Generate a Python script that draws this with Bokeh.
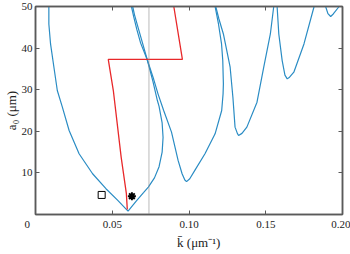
from bokeh.plotting import figure
from bokeh.models import (FixedTicker, LinearAxis, Span, CustomJSTickFormatter)
from bokeh.embed import file_html
from bokeh.resources import INLINE

# ---------------- data ----------------
loop_k = [0.0087, 0.0087, 0.0098, 0.0120, 0.0142, 0.0175, 0.0219, 0.0284, 0.0372, 0.0459,
          0.0536, 0.0595, 0.0603, 0.0656, 0.0705, 0.0735, 0.0775, 0.0805, 0.0825, 0.0831,
          0.0825, 0.0805, 0.0794, 0.0765, 0.0728, 0.0695, 0.0668, 0.0645, 0.0633]
loop_a = [50.0, 45.8, 41.0, 35.4, 29.8, 25.8, 20.2, 14.6, 9.8, 6.2,
          3.4, 1.1, 0.8, 3.2, 5.3, 6.6, 8.8, 11.5, 15.0, 18.5,
          22.0, 26.0, 27.4, 32.0, 37.2, 41.5, 45.0, 48.0, 50.0]

b_k = [0.0625, 0.0640, 0.0660, 0.0685, 0.0728, 0.0770, 0.0798, 0.0835, 0.0886, 0.0929,
       0.0955, 0.0973, 0.0984, 0.1005, 0.1038, 0.1104, 0.1170, 0.1213, 0.1222, 0.1224,
       0.1220, 0.1212, 0.1192, 0.1170]
b_a = [50.0, 47.5, 44.5, 41.2, 37.2, 32.5, 29.0, 25.0, 19.8, 13.0,
       9.8, 8.3, 7.9, 8.6, 10.6, 14.6, 19.4, 25.0, 29.0, 31.4,
       37.0, 41.0, 45.8, 50.0]

c_k = [0.1174, 0.1195, 0.1224, 0.1268, 0.1286, 0.1300, 0.1315, 0.1323, 0.1345, 0.1377,
       0.1443, 0.1487, 0.1530, 0.1552]
c_a = [50.0, 47.0, 43.4, 35.4, 28.2, 21.0, 19.5, 19.0, 19.5, 21.0,
       27.0, 35.4, 43.4, 50.0]

d_k = [0.1574, 0.1585, 0.1607, 0.1625, 0.1640, 0.1655, 0.1683, 0.1749, 0.1815]
d_a = [50.0, 43.4, 37.0, 33.5, 32.6, 33.0, 34.2, 41.0, 50.0]

e_k = [0.1890, 0.1905, 0.1923, 0.1940, 0.1978]
e_a = [50.0, 48.3, 47.6, 48.2, 50.0]

red_k = [0.0598, 0.0592, 0.0558, 0.0507, 0.0474, 0.0957, 0.0901]
red_a = [1.2, 5.0, 13.8, 29.8, 37.3, 37.3, 50.0]

dotted_k = 0.0739
square_k, square_a = [0.0431], [4.7]
star_k, star_a = [0.0628], [4.4]

x_ticks = [0, 0.05, 0.10, 0.15, 0.20]
y_ticks = [10, 20, 30, 40, 50]
x_label = "\u2002\u2002\u2002k\u0304 (\u03bcm\u207b\u00b9)"
y_label = "a\u2080 (\u03bcm)"

BLUE = "#2a8cc4"
RED = "#e8282a"
FRAME = "#5a5a5a"
FONT = "Liberation Serif"

p = figure(width=350, height=254, x_range=(0, 0.2), y_range=(0, 50),
           output_backend="svg", toolbar_location=None,
           min_border_left=35, min_border_right=8, min_border_top=6, min_border_bottom=40)
p.grid.visible = False
p.outline_line_color = FRAME
p.outline_line_width = 1.5
p.background_fill_color = "white"
p.border_fill_color = "white"

for ax in (p.xaxis[0], p.yaxis[0]):
    ax.axis_line_color = FRAME
    ax.axis_line_width = 1.5
    ax.major_tick_in = 4
    ax.major_tick_out = 0
    ax.minor_tick_line_color = None
    ax.major_tick_line_color = FRAME
    ax.major_label_text_font = FONT
    ax.major_label_text_font_size = "11px"
    ax.major_label_text_color = "#222222"
    ax.axis_label_text_font = FONT
    ax.axis_label_text_font_size = "13px"
    ax.axis_label_text_font_style = "normal"
    ax.axis_label_text_color = "#222222"

p.xaxis[0].ticker = FixedTicker(ticks=x_ticks)
p.xaxis[0].formatter = CustomJSTickFormatter(
    code="return tick == 0 ? '0\u2002\u2002\u2002' : tick.toFixed(2)")
p.xaxis[0].major_label_standoff = 3
p.xaxis[0].axis_label = x_label
p.xaxis[0].axis_label_standoff = 2
p.yaxis[0].ticker = FixedTicker(ticks=y_ticks)
p.yaxis[0].major_label_standoff = 3
p.yaxis[0].axis_label = y_label
p.yaxis[0].axis_label_standoff = 0

blank = CustomJSTickFormatter(code="return ''")
top = LinearAxis(ticker=FixedTicker(ticks=x_ticks[1:]), formatter=blank,
                 major_tick_in=4, major_tick_out=0, axis_line_color=FRAME, axis_line_width=1.5,
                 major_tick_line_color=FRAME, minor_tick_line_color=None,
                 major_label_text_font_size="1px", major_label_standoff=0)
right = LinearAxis(ticker=FixedTicker(ticks=y_ticks), formatter=blank,
                   major_tick_in=4, major_tick_out=0, axis_line_color=FRAME, axis_line_width=1.5,
                   major_tick_line_color=FRAME, minor_tick_line_color=None,
                   major_label_text_font_size="1px", major_label_standoff=0)
p.add_layout(top, "above")
p.add_layout(right, "right")

p.add_layout(Span(location=dotted_k, dimension="height", line_color="#8c8c8c",
                  line_width=1.2, line_dash="1 1"))

for xs, ys in ((loop_k, loop_a), (b_k, b_a), (c_k, c_a), (d_k, d_a), (e_k, e_a)):
    p.line(xs, ys, line_color=BLUE, line_width=1.2)
p.line(red_k, red_a, line_color=RED, line_width=1.3)

p.scatter(square_k, square_a, marker="square", size=7, fill_color=None,
          line_color="black", line_width=1)
p.scatter(star_k, star_a, marker="asterisk", size=8, line_color="black", line_width=2)

open("out.html", "w").write(file_html(p, INLINE))
